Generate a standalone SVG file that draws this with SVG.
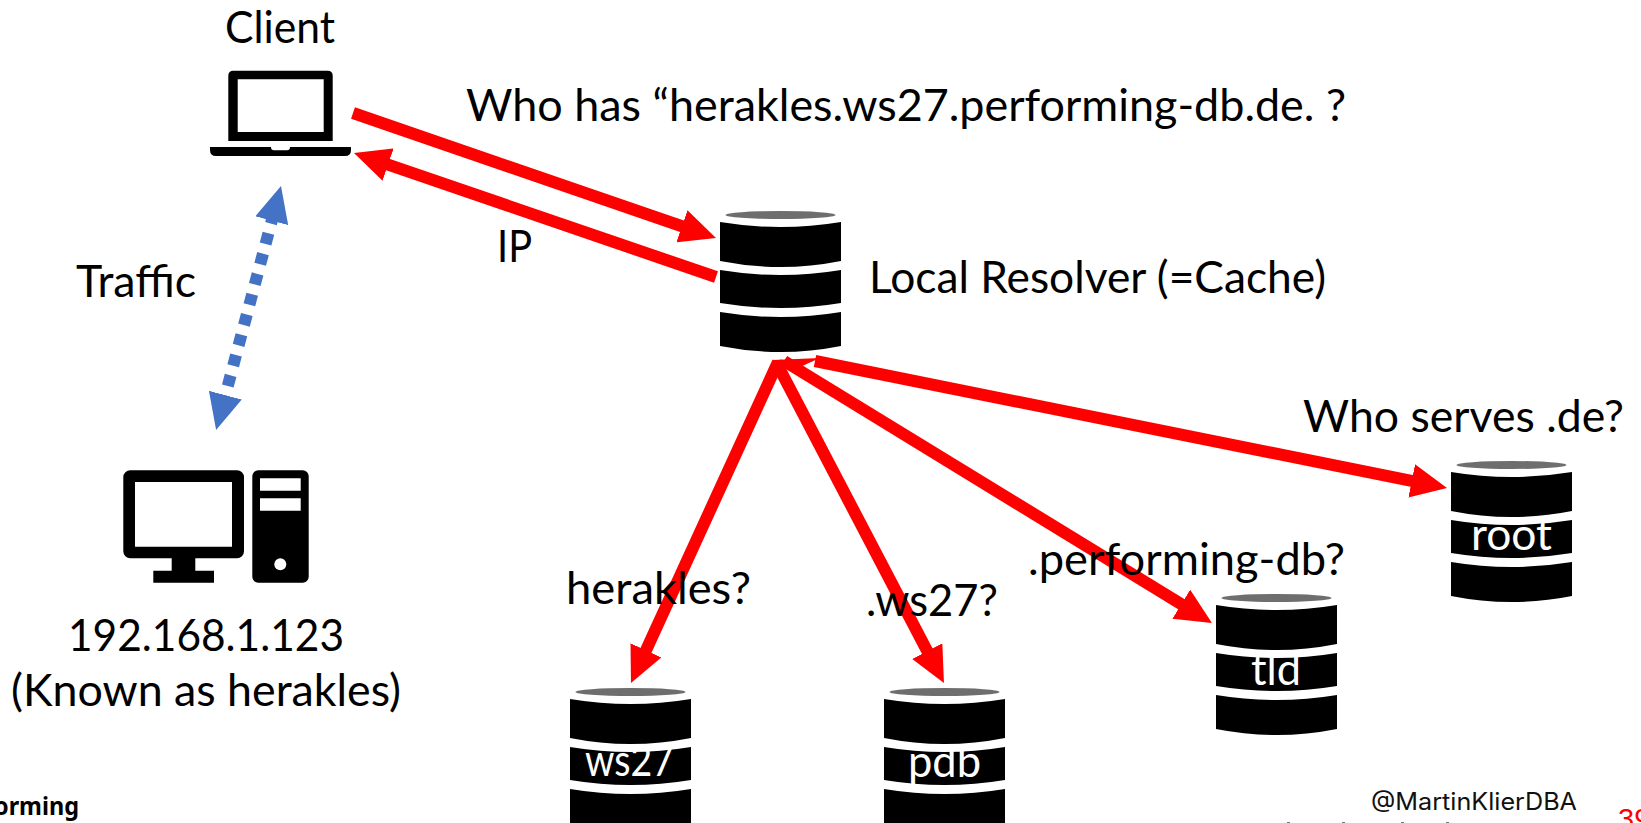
<svg xmlns="http://www.w3.org/2000/svg" xmlns:xlink="http://www.w3.org/1999/xlink" width="1641" height="823" viewBox="0 0 1641 823">
<style>
text{font-family:"Lato","Carlito","Liberation Sans",sans-serif;font-size:44px;fill:#000}
.w{fill:#fff}
.r{fill:none;stroke:#f00;stroke-width:12}
.b{fill:none;stroke:#4472c4;stroke-width:12;stroke-dasharray:11 10}
</style>
<defs>
<g id="cyl">
<ellipse cx="60.5" cy="4" rx="55" ry="4" fill="#6e6e6e"/>
<path d="M0,11Q60.5,21 121,11V50Q60.5,62 0,50Z"/>
<path d="M0,59Q60.5,69 121,59V92Q60.5,102 0,92Z"/>
<path d="M0,101Q60.5,111 121,101V135Q60.5,147 0,135Z"/>
</g>
<marker id="ah" markerUnits="userSpaceOnUse" markerWidth="37" markerHeight="34" refX="10" refY="17" orient="auto"><path d="M0,0L36,17L0,34Z" fill="#f00"/></marker>
<marker id="bh" markerUnits="userSpaceOnUse" markerWidth="37" markerHeight="34" refX="8" refY="17" orient="auto-start-reverse"><path d="M0,0L36,17L0,34Z" fill="#4472c4"/></marker>
</defs>
<rect width="1641" height="823" fill="#fff"/>
<g id="client">
<path fill-rule="evenodd" d="M233,70.7H328a4.7,4.7 0 0 1 4.7,4.7V141H228.3V75.4a4.7,4.7 0 0 1 4.7,-4.7ZM237.7,79.3V132H323.7V79.3Z"/>
<path d="M210,147H271Q271,150.3 274,150.3H287Q290,150.3 290,147H351V150Q351,156 345,156H216Q210,156 210,150Z"/>
<text x="225" y="42.7" textLength="110" lengthAdjust="spacingAndGlyphs">Client</text>
</g>
<g id="host">
<path fill-rule="evenodd" d="M130,470.3H237a7,7 0 0 1 7,7V551.3a7,7 0 0 1 -7,7H195.3V570.7H214V582.7H153.3V570.7H171.7V558.3H130.3a7,7 0 0 1 -7,-7V477.3a7,7 0 0 1 7,-7ZM135,482V546.7H232V482Z"/>
<path fill-rule="evenodd" d="M258.3,470.3H302.7a6,6 0 0 1 6,6V576.7a6,6 0 0 1 -6,6H258.3a6,6 0 0 1 -6,-6V476.3a6,6 0 0 1 6,-6ZM260,478.3V490.7H300.7V478.3ZM260,498.3V510.7H300.7V498.3Z"/>
<circle cx="280.3" cy="564.3" r="6" fill="#fff"/>
<text x="68" y="651" textLength="276" lengthAdjust="spacingAndGlyphs">192.168.1.123</text>
<text x="11" y="706" textLength="390" lengthAdjust="spacingAndGlyphs">(Known as herakles)</text>
</g>
<g id="local-resolver">
<use href="#cyl" x="720" y="211"/>
<text x="869" y="293" textLength="457" lengthAdjust="spacingAndGlyphs">Local Resolver (=Cache)</text>
</g>
<g id="root">
<use href="#cyl" x="1451" y="461"/>
<text class="w" x="1471" y="550" textLength="81" lengthAdjust="spacingAndGlyphs">root</text>
</g>
<g id="tld">
<use href="#cyl" x="1216" y="594"/>
<text class="w" x="1251" y="685" textLength="50" lengthAdjust="spacingAndGlyphs">tld</text>
</g>
<g id="ws27">
<use href="#cyl" x="570" y="688"/>
<text class="w" x="585" y="776" textLength="89" lengthAdjust="spacingAndGlyphs">ws27</text>
</g>
<g id="pdb">
<use href="#cyl" x="884" y="688"/>
<text class="w" x="908" y="777" textLength="73" lengthAdjust="spacingAndGlyphs">pdb</text>
</g>
<g id="connectors">
<path class="b" d="M273.8,213L223.3,402.9" marker-start="url(#bh)" marker-end="url(#bh)"/>
<path class="r" d="M353,113L691.4,229.5" marker-end="url(#ah)"/>
<path class="r" d="M716,277L378.6,161.4" marker-end="url(#ah)"/>
<path d="M773,360L820,358L800,367L781,368Z" fill="#f00"/>
<path class="r" d="M778,362L641.8,659.4" marker-end="url(#ah)"/>
<path class="r" d="M776,362L931.9,660" marker-end="url(#ah)"/>
<path class="r" d="M784,361L1189.8,609.4" marker-end="url(#ah)"/>
<path class="r" d="M815,361L1421.5,482.9" marker-end="url(#ah)"/>
</g>
<g id="labels">
<text x="466" y="121" textLength="880" lengthAdjust="spacingAndGlyphs">Who has “herakles.ws27.performing-db.de. ?</text>
<text x="497" y="262" textLength="35" lengthAdjust="spacingAndGlyphs">IP</text>
<text x="76" y="297" textLength="120" lengthAdjust="spacingAndGlyphs">Traffic</text>
<text x="1303" y="432" textLength="321" lengthAdjust="spacingAndGlyphs">Who serves .de?</text>
<text x="566" y="604" textLength="185" lengthAdjust="spacingAndGlyphs">herakles?</text>
<text x="866" y="616" textLength="132" lengthAdjust="spacingAndGlyphs">.ws27?</text>
<text x="1028" y="575" textLength="317" lengthAdjust="spacingAndGlyphs">.performing-db?</text>
</g>
<g id="footer">
<text x="-6" y="815" textLength="85" lengthAdjust="spacingAndGlyphs" style="font-family:'Noto Sans','Open Sans',sans-serif;font-size:25px;font-weight:700">orming</text>
<text x="1371" y="810" textLength="206" lengthAdjust="spacingAndGlyphs" style="font-family:'Inter','Roboto',sans-serif;font-size:24px;fill:#111">@MartinKlierDBA</text>
<text x="1618" y="829" style="font-family:'Liberation Sans',sans-serif;font-size:29px;fill:#f00">39</text>
<path d="M1287,822h3v1h-3ZM1342,822h3v1h-3ZM1401,822h3v1h-3ZM1446,822h3v1h-3Z" fill="#777"/>
</g>
</svg>
